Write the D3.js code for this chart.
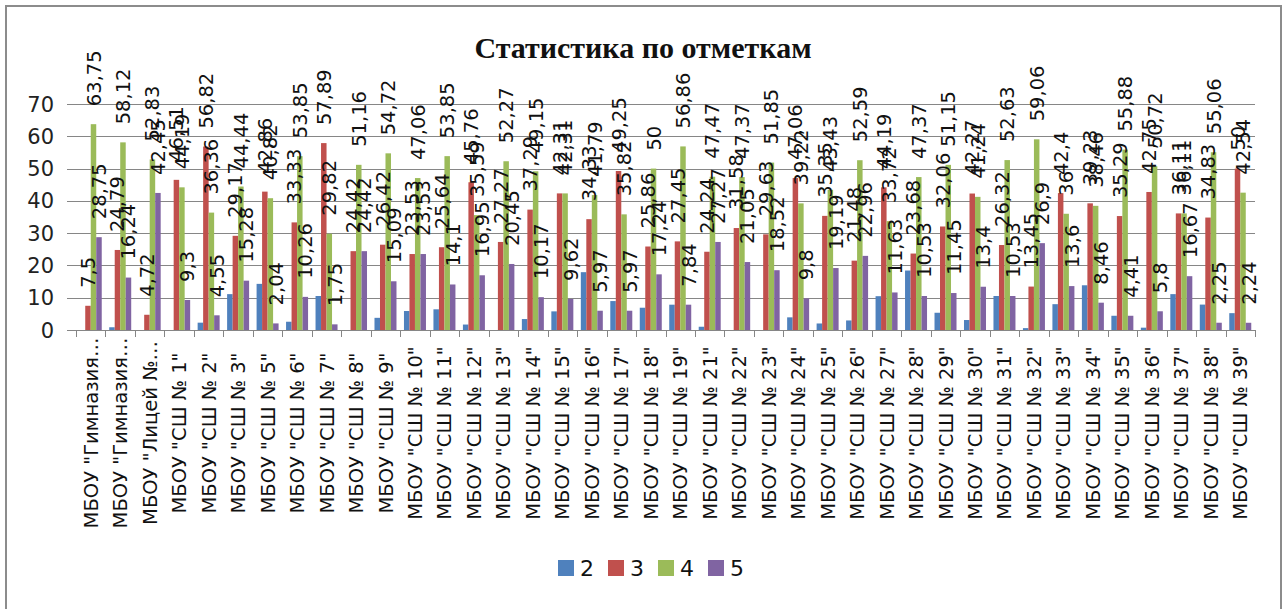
<!DOCTYPE html>
<html>
<head>
<meta charset="utf-8">
<script src="https://cdnjs.cloudflare.com/ajax/libs/d3/7.8.5/d3.min.js"></script>
<style>
  body { margin: 0; background: #fff; }
  svg { display: block; }
</style>
</head>
<body>
<div id="chart"></div>
<script>
var title = "Статистика по отметкам";

var categories = [
  'МБОУ "Гимназия…', 'МБОУ "Гимназия…', 'МБОУ "Лицей №…',
  'МБОУ "СШ № 1"', 'МБОУ "СШ № 2"', 'МБОУ "СШ № 3"', 'МБОУ "СШ № 5"',
  'МБОУ "СШ № 6"', 'МБОУ "СШ № 7"', 'МБОУ "СШ № 8"', 'МБОУ "СШ № 9"',
  'МБОУ "СШ № 10"', 'МБОУ "СШ № 11"', 'МБОУ "СШ № 12"', 'МБОУ "СШ № 13"',
  'МБОУ "СШ № 14"', 'МБОУ "СШ № 15"', 'МБОУ "СШ № 16"', 'МБОУ "СШ № 17"',
  'МБОУ "СШ № 18"', 'МБОУ "СШ № 19"', 'МБОУ "СШ № 21"', 'МБОУ "СШ № 22"',
  'МБОУ "СШ № 23"', 'МБОУ "СШ № 24"', 'МБОУ "СШ № 25"', 'МБОУ "СШ № 26"',
  'МБОУ "СШ № 27"', 'МБОУ "СШ № 28"', 'МБОУ "СШ № 29"', 'МБОУ "СШ № 30"',
  'МБОУ "СШ № 31"', 'МБОУ "СШ № 32"', 'МБОУ "СШ № 33"', 'МБОУ "СШ № 34"',
  'МБОУ "СШ № 35"', 'МБОУ "СШ № 36"', 'МБОУ "СШ № 37"', 'МБОУ "СШ № 38"',
  'МБОУ "СШ № 39"'
];

var seriesNames = ["2", "3", "4", "5"];

var grade2 = [0, 0.85, 0, 0, 2.27, 11.11, 14.29, 2.56, 10.53, 0,
  3.77, 5.88, 6.41, 1.69, 0, 3.39, 5.77, 17.91, 8.96, 6.9,
  7.84, 1.01, 0, 0, 3.92, 2.02, 2.96, 10.47, 18.42, 5.34,
  3.09, 10.53, 0.58, 8, 13.85, 4.41, 0.72, 11.11, 7.87, 5.22];

var grade3 = [7.5, 24.79, 4.72, 46.51, 56.82, 29.17, 42.86, 33.33, 57.89, 24.42,
  26.42, 23.53, 25.64, 45.76, 27.27, 37.29, 42.31, 34.33, 49.25, 25.86,
  27.45, 24.24, 31.58, 29.63, 47.06, 35.35, 21.48, 44.19, 23.68, 32.06,
  42.27, 26.32, 13.45, 42.4, 39.23, 35.29, 42.75, 36.11, 34.83, 50];

var grade4 = [63.75, 58.12, 52.83, 44.19, 36.36, 44.44, 40.82, 53.85, 29.82, 51.16,
  54.72, 47.06, 53.85, 35.59, 52.27, 49.15, 42.31, 41.79, 35.82, 50,
  56.86, 47.47, 47.37, 51.85, 39.22, 43.43, 52.59, 33.72, 47.37, 51.15,
  41.24, 52.63, 59.06, 36, 38.46, 55.88, 50.72, 36.11, 55.06, 42.54];

var grade5 = [28.75, 16.24, 42.45, 9.3, 4.55, 15.28, 2.04, 10.26, 1.75, 24.42,
  15.09, 23.53, 14.1, 16.95, 20.45, 10.17, 9.62, 5.97, 5.97, 17.24,
  7.84, 27.27, 21.05, 18.52, 9.8, 19.19, 22.96, 11.63, 10.53, 11.45,
  13.4, 10.53, 26.9, 13.6, 8.46, 4.41, 5.8, 16.67, 2.25, 2.24];

var yTicks = [0, 10, 20, 30, 40, 50, 60, 70];

(function () {
  var allSeries = [grade2, grade3, grade4, grade5];
  var colors = ["#4F81BD", "#C0504D", "#9BBB59", "#8064A2"];
  var labelled = [false, true, true, true];

  var W = 1283, H = 609;
  var plotLeft = 76, plotRight = 1255, plotTop = 104, plotBottom = 330;

  var svg = d3.select("#chart").append("svg")
    .attr("width", W)
    .attr("height", H)
    .style("font-family", "'DejaVu Sans', sans-serif");

  // frame
  svg.append("rect")
    .attr("x", 6).attr("y", 6)
    .attr("width", 1275).attr("height", 640)
    .attr("fill", "#fff")
    .attr("stroke", "#8c8c8c")
    .attr("stroke-width", 2);

  var x0 = d3.scaleBand().domain(d3.range(categories.length)).range([plotLeft, plotRight]);
  var x1 = d3.scaleBand().domain(d3.range(seriesNames.length))
    .range([0, x0.bandwidth()]).paddingInner(0).paddingOuter(0.68);
  var y = d3.scaleLinear().domain([0, 70]).range([plotBottom, plotTop]);

  // gridlines + y labels
  svg.append("g").selectAll("line")
    .data(yTicks).enter()
    .append("line")
    .attr("x1", 67).attr("x2", plotRight)
    .attr("y1", function (d) { return Math.round(y(d)) + 0.5; })
    .attr("y2", function (d) { return Math.round(y(d)) + 0.5; })
    .style("stroke", "#868686")
    .style("stroke-width", "1px");

  svg.append("g").selectAll("text")
    .data(yTicks).enter()
    .append("text")
    .attr("x", 54)
    .attr("y", function (d) { return y(d); })
    .attr("dy", "0.36em")
    .attr("text-anchor", "end")
    .style("font-size", "21px")
    .attr("fill", "#222")
    .text(function (d) { return d; });

  // x ticks
  svg.append("g").selectAll("line")
    .data(d3.range(categories.length + 1)).enter()
    .append("line")
    .attr("x1", function (i) { return Math.round(plotLeft + i * x0.step()) + 0.5; })
    .attr("x2", function (i) { return Math.round(plotLeft + i * x0.step()) + 0.5; })
    .attr("y1", plotBottom).attr("y2", plotBottom + 7)
    .style("stroke", "#868686")
    .style("stroke-width", "1px");

  // bars
  allSeries.forEach(function (vals, s) {
    svg.append("g").selectAll("rect")
      .data(vals).enter()
      .append("rect")
      .attr("x", function (d, i) { return x0(i) + x1(s); })
      .attr("y", function (d) { return y(d); })
      .attr("width", x1.bandwidth())
      .attr("height", function (d) { return plotBottom - y(d); })
      .attr("fill", colors[s]);
  });

  // data labels (series 3, 4, 5)
  var fmt = function (v) { return String(v).replace(".", ","); };
  allSeries.forEach(function (vals, s) {
    if (!labelled[s]) return;
    svg.append("g").selectAll("text")
      .data(vals).enter()
      .append("text")
      .attr("transform", function (d, i) {
        var cx = x0(i) + x1(s) + x1.bandwidth() / 2;
        return "translate(" + cx + "," + (y(d) - 18) + ") rotate(-90)";
      })
      .attr("dy", "0.36em")
      .attr("text-anchor", "start")
      .style("font-size", "19.5px")
      .attr("fill", "#111")
      .text(fmt);
  });

  // category labels
  svg.append("g").selectAll("text")
    .data(categories).enter()
    .append("text")
    .attr("transform", function (d, i) {
      return "translate(" + (x0(i) + x0.bandwidth() / 2) + ",433) rotate(-90)";
    })
    .attr("dy", "0.36em")
    .attr("text-anchor", "middle")
    .style("font-size", "19.5px")
    .attr("fill", "#111")
    .text(function (d) { return d; });

  // title
  svg.append("text")
    .attr("x", 643).attr("y", 58)
    .attr("text-anchor", "middle")
    .style("font-family", "'Liberation Serif', serif")
    .style("font-weight", "bold")
    .style("font-size", "30px")
    .attr("fill", "#111")
    .text(title);

  // legend
  var legend = svg.append("g").selectAll("g")
    .data(seriesNames).enter()
    .append("g")
    .attr("transform", function (d, i) { return "translate(" + (558 + i * 50) + ",560)"; });
  legend.append("rect")
    .attr("width", 16).attr("height", 16)
    .attr("fill", function (d, i) { return colors[i]; });
  legend.append("text")
    .attr("x", 22).attr("y", 8)
    .attr("dy", "0.36em")
    .style("font-size", "22px")
    .attr("fill", "#111")
    .text(function (d) { return d; });
})();
</script>
</body>
</html>
